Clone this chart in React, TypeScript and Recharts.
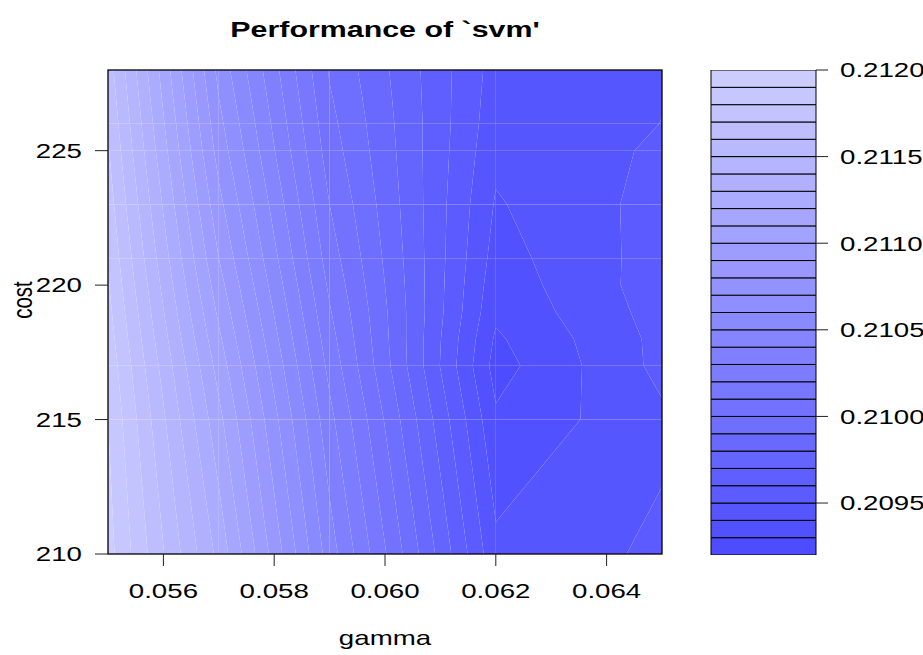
import React, { useMemo } from "react";
import * as RechartsAll from "recharts";
import { ComposedChart, Scatter, XAxis, YAxis, Customized, BarChart, Bar } from "recharts";

// grid of the tuning run (columns = gamma, rows = cost)
const gammaGrid = [0.055, 0.057, 0.059, 0.062, 0.065];
const costGrid = [210, 215, 217, 218, 219, 220, 221, 223, 225, 226, 227, 228];

// cross-validation error per cost row, one value per gamma column
const errCost210 = [0.21194, 0.21127, 0.21045, 0.209426, 0.20952];
const errCost215 = [0.2119, 0.21113, 0.21033, 0.209317, 0.20948];
const errCost217 = [0.21187, 0.21106, 0.21027, 0.20926, 0.20953];
const errCost218 = [0.21185, 0.21102, 0.21024, 0.209285, 0.20953];
const errCost219 = [0.21183, 0.21098, 0.21021, 0.20932, 0.209542];
const errCost220 = [0.21181, 0.21094, 0.21018, 0.20934, 0.209553];
const errCost221 = [0.21179, 0.2109, 0.21015, 0.20936, 0.209545];
const errCost223 = [0.21175, 0.21083, 0.2101, 0.20939, 0.209537];
const errCost225 = [0.21171, 0.21076, 0.21005, 0.209425, 0.209515];
const errCost226 = [0.21169, 0.21073, 0.21003, 0.20944, 0.209501];
const errCost227 = [0.21167, 0.2107, 0.21001, 0.20945, 0.209497];
const errCost228 = [0.21165, 0.21067, 0.20999, 0.20946, 0.20948];
const errorRows = [
  errCost210, errCost215, errCost217, errCost218, errCost219, errCost220,
  errCost221, errCost223, errCost225, errCost226, errCost227, errCost228,
];

const contourLevels = [
  0.2092, 0.2093, 0.2094, 0.2095, 0.2096, 0.2097, 0.2098, 0.2099, 0.21, 0.2101,
  0.2102, 0.2103, 0.2104, 0.2105, 0.2106, 0.2107, 0.2108, 0.2109, 0.211, 0.2111,
  0.2112, 0.2113, 0.2114, 0.2115, 0.2116, 0.2117, 0.2118, 0.2119, 0.212,
];

const gammaTicks = [0.056, 0.058, 0.06, 0.062, 0.064];
const costTicks = [210, 215, 220, 225];
const keyTicks = [0.2095, 0.21, 0.2105, 0.211, 0.2115, 0.212];

const xDomain: [number, number] = [0.055, 0.065];
const yDomain: [number, number] = [210, 228];

const FONT = "'Liberation Sans', Arial, Helvetica, sans-serif";
const STRETCH = 1.35;
const TICK_FONT = 20.5;

// hsv_palette(h = 2/3, from = 0.7, to = 0.2, v = 1)
const bandColors = contourLevels.slice(1).map((_, i, arr) => {
  const s = 0.7 - (0.5 * i) / (arr.length - 1);
  const v = Math.round(255 * (1 - s));
  return `rgb(${v},${v},255)`;
});

type Pt = { g: number; c: number; z: number };

function clipPoly(poly: Pt[], level: number, keepAbove: boolean): Pt[] {
  const out: Pt[] = [];
  const inside = (p: Pt) => (keepAbove ? p.z >= level : p.z <= level);
  for (let i = 0; i < poly.length; i++) {
    const a = poly[(i + poly.length - 1) % poly.length];
    const b = poly[i];
    const ia = inside(a);
    const ib = inside(b);
    if (ia !== ib) {
      const t = (level - a.z) / (b.z - a.z);
      out.push({ g: a.g + t * (b.g - a.g), c: a.c + t * (b.c - a.c), z: level });
    }
    if (ib) out.push(b);
  }
  return out;
}

// filled-contour pieces, one per cell and level band
function buildBands() {
  const bands: { k: number; pts: Pt[] }[] = [];
  const last = contourLevels.length - 2;
  for (let r = 0; r < costGrid.length - 1; r++) {
    for (let q = 0; q < gammaGrid.length - 1; q++) {
      const cell: Pt[] = [
        { g: gammaGrid[q], c: costGrid[r], z: errorRows[r][q] },
        { g: gammaGrid[q + 1], c: costGrid[r], z: errorRows[r][q + 1] },
        { g: gammaGrid[q + 1], c: costGrid[r + 1], z: errorRows[r + 1][q + 1] },
        { g: gammaGrid[q], c: costGrid[r + 1], z: errorRows[r + 1][q] },
      ];
      for (let k = 0; k <= last; k++) {
        let p = k === 0 ? cell : clipPoly(cell, contourLevels[k], true);
        if (p.length < 3) continue;
        if (k < last) p = clipPoly(p, contourLevels[k + 1], false);
        if (p.length < 3) continue;
        bands.push({ k, pts: p });
      }
    }
  }
  return bands;
}

const RA: any = RechartsAll;
const hasScaleHooks = typeof RA.useXAxisScale === "function" && typeof RA.useYAxisScale === "function";
const hasPlotArea = typeof RA.usePlotArea === "function";
const hasOffset = typeof RA.useOffset === "function";

function useScales(): [(v: number) => number, (v: number) => number] {
  const xs = hasScaleHooks ? RA.useXAxisScale(0) : undefined;
  const ys = hasScaleHooks ? RA.useYAxisScale(0) : undefined;
  const area = hasPlotArea ? RA.usePlotArea() : undefined;
  const off = !hasPlotArea && hasOffset ? RA.useOffset() : undefined;
  if (typeof xs === "function" && typeof ys === "function") {
    const tx = xs(0.06);
    const ty = ys(220);
    if (Number.isFinite(tx) && Number.isFinite(ty)) return [(v) => xs(v), (v) => ys(v)];
  }
  let box = area;
  if (!box && off) box = { x: off.left, y: off.top, width: off.width, height: off.height };
  if (!box) box = { x: 108, y: 70, width: 554, height: 484 };
  const sx = (v: number) => box.x + ((v - xDomain[0]) / (xDomain[1] - xDomain[0])) * box.width;
  const sy = (v: number) => box.y + ((yDomain[1] - v) / (yDomain[1] - yDomain[0])) * box.height;
  return [sx, sy];
}

function ContourLayer() {
  const [sx, sy] = useScales();
  const bands = useMemo(buildBands, []);
  const x0 = sx(xDomain[0]);
  const x1 = sx(xDomain[1]);
  const y0 = sy(yDomain[1]);
  const y1 = sy(yDomain[0]);
  return (
    <g>
      {bands.map((b, i) => (
        <polygon
          key={i}
          points={b.pts.map((p) => `${sx(p.g)},${sy(p.c)}`).join(" ")}
          fill={bandColors[b.k]}
        />
      ))}
      <rect x={x0} y={y0} width={x1 - x0} height={y1 - y0} fill="none" stroke="#000" strokeWidth={1.3} />
    </g>
  );
}

function StretchText({ x, y, anchor = "middle", size = TICK_FONT, bold = false, rotate = false, dy, children }: any) {
  return (
    <text
      transform={`translate(${x},${y}) scale(${STRETCH},1)${rotate ? " rotate(-90)" : ""}`}
      textAnchor={anchor}
      dy={dy}
      fontSize={size}
      fontWeight={bold ? 700 : 400}
      fontFamily={FONT}
      fill="#000"
    >
      {children}
    </text>
  );
}

function Annotations() {
  return (
    <g>
      <StretchText x={385} y={37} size={22.5} bold>
        Performance of `svm'
      </StretchText>
      <StretchText x={385} y={645}>gamma</StretchText>
      <StretchText x={32} y={300} rotate>
        cost
      </StretchText>
    </g>
  );
}

const XTick = (p: any) => (
  <StretchText x={p.x} y={p.y} dy="0.71em">
    {Number(p.payload.value).toFixed(3)}
  </StretchText>
);
const YTick = (p: any) => (
  <StretchText x={p.x} y={p.y} anchor="end" dy="0.355em">
    {p.payload.value}
  </StretchText>
);
const KeyTick = (p: any) => (
  <StretchText x={p.x} y={p.y} anchor="start" dy="0.355em">
    {Number(p.payload.value).toFixed(4)}
  </StretchText>
);

const gridNodes = costGrid.flatMap((c) => gammaGrid.map((g) => ({ gamma: g, cost: c })));

const keyRow: any = { name: "key", base: contourLevels[0] };
bandColors.forEach((_, k) => {
  keyRow["b" + k] = contourLevels[k + 1] - contourLevels[k];
});
const keyData = [keyRow];

export default function App() {
  return (
    <div style={{ position: "absolute", left: 0, top: 0, width: 923, height: 655, overflow: "hidden", background: "#fff" }}>
      <div style={{ position: "absolute", left: 0, top: 0 }}>
        <ComposedChart width={923} height={655} margin={{ top: 70, right: 261, bottom: 0, left: 0 }}>
          <XAxis
            dataKey="gamma"
            type="number"
            domain={xDomain}
            ticks={gammaTicks}
            height={101}
            tickSize={12}
            tickMargin={17}
            axisLine={false}
            tickLine={{ stroke: "#222", strokeWidth: 1 }}
            tick={<XTick />}
            allowDataOverflow
          />
          <YAxis
            dataKey="cost"
            type="number"
            domain={yDomain}
            ticks={costTicks}
            width={108}
            tickSize={13}
            tickMargin={13}
            axisLine={false}
            tickLine={{ stroke: "#222", strokeWidth: 1 }}
            tick={<YTick />}
            allowDataOverflow
          />
          <Customized component={<ContourLayer />} />
          <Scatter data={gridNodes} dataKey="cost" fill="none" shape={() => <g />} isAnimationActive={false} />
          <Customized component={<Annotations />} />
        </ComposedChart>
      </div>
      <div style={{ position: "absolute", left: 0, top: 0 }}>
        <BarChart
          width={923}
          height={655}
          data={keyData}
          margin={{ top: 70, right: 0, bottom: 100, left: 711 }}
          barCategoryGap={0}
          barGap={0}
        >
          <XAxis dataKey="name" hide />
          <YAxis
            orientation="right"
            type="number"
            domain={[contourLevels[0], contourLevels[contourLevels.length - 1]]}
            ticks={keyTicks}
            width={107}
            tickSize={12}
            tickMargin={12}
            axisLine={false}
            tickLine={{ stroke: "#222", strokeWidth: 1 }}
            tick={<KeyTick />}
            allowDataOverflow
          />
          <Bar dataKey="base" stackId="key" fill="none" stroke="none" isAnimationActive={false} />
          {bandColors.map((col, k) => (
            <Bar
              key={k}
              dataKey={"b" + k}
              stackId="key"
              fill={col}
              stroke="#000"
              strokeWidth={1}
              isAnimationActive={false}
            />
          ))}
        </BarChart>
      </div>
    </div>
  );
}
